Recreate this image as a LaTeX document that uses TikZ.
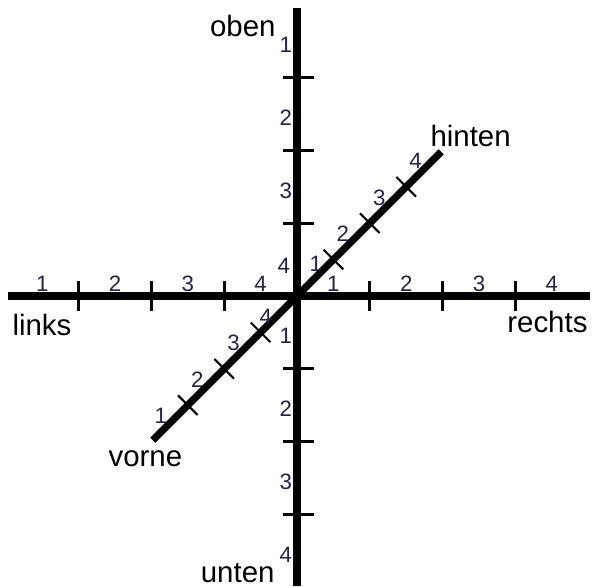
\documentclass[tikz,border=0pt]{standalone}
\usepackage{fontspec}
\setmainfont{Liberation Sans}
\usetikzlibrary{positioning}
\definecolor{numblue}{RGB}{35,35,75}

\begin{document}
\begin{tikzpicture}[axis/.style={line width=2.8pt}, tick/.style={line width=1.1pt}, dtick/.style={line width=0.8pt}, word/.style={font=\fontsize{11.5}{13}\selectfont, inner sep=0pt}, num/.style={font=\fontsize{8.7}{10}\selectfont, text=numblue, inner sep=0pt}]
\useasboundingbox (-4.080,-3.984) rectangle (4.066,4.066);
% axis ends
\coordinate (o) at (0,0);
\coordinate (links) at (-3.97,0);
\coordinate (rechts) at (4.025,0);
\coordinate (oben) at (0,3.956);
\coordinate (unten) at (0,-3.984);
\coordinate (vorne) at (-1.98,-1.98);
\coordinate (hinten) at (1.98,1.98);
\draw[axis] (links) -- (rechts);
\draw[axis] (unten) -- (oben);
\draw[axis] (vorne) -- (hinten);
% ticks
\foreach \k in {-3,-2,-1,1,2,3} {
  \draw[tick] (\k,0.2) -- (\k,-0.2);
  \draw[tick] (-0.19,\k) -- (0.23,\k);
  \draw[dtick] (\k/2,\k/2) ++(-0.135,0.135) -- ++(0.27,-0.27);
}
% numbers
\foreach \k in {1,...,4} {
  \node[num] (nl\k) at (\k-4.5,0.165) {\k};
  \node[num] (nr\k) at (\k-0.5,0.165) {\k};
  \node[num] (nu\k) at (-0.155,-\k+0.45) {\k};
}
\foreach \k in {1,2,3} \node[num] (no\k) at (-0.155,4.45-\k) {\k};
\node[num] (no4) at (-0.18,0.42) {4};
\node[num] (nh1) at (0.26,0.44) {1};
\foreach \k in {2,3,4} \node[num] (nh\k) at (\k/2-0.37,\k/2-0.15) {\k};
\foreach \k in {1,2,3} \node[num] (nv\k) at (\k/2-2.37,\k/2-2.15) {\k};
\node[num] (nv4) at (-0.43,-0.29) {4};
% words
\node[word, anchor=base east] (toplabel) at (-0.288,3.571) {oben};
\node[word, anchor=base east] (bottomlabel) at (-0.302,-3.942) {unten};
\node[word, anchor=base west] (leftlabel) at (-3.915,-0.536) {links};
\node[word, anchor=base east] (rightlabel) at (3.997,-0.508) {rechts};
\node[word, anchor=base west] (backlabel) at (1.827,2.060) {hinten};
\node[word, anchor=base west] (frontlabel) at (-2.596,-2.349) {vorne};
\end{tikzpicture}
\end{document}
